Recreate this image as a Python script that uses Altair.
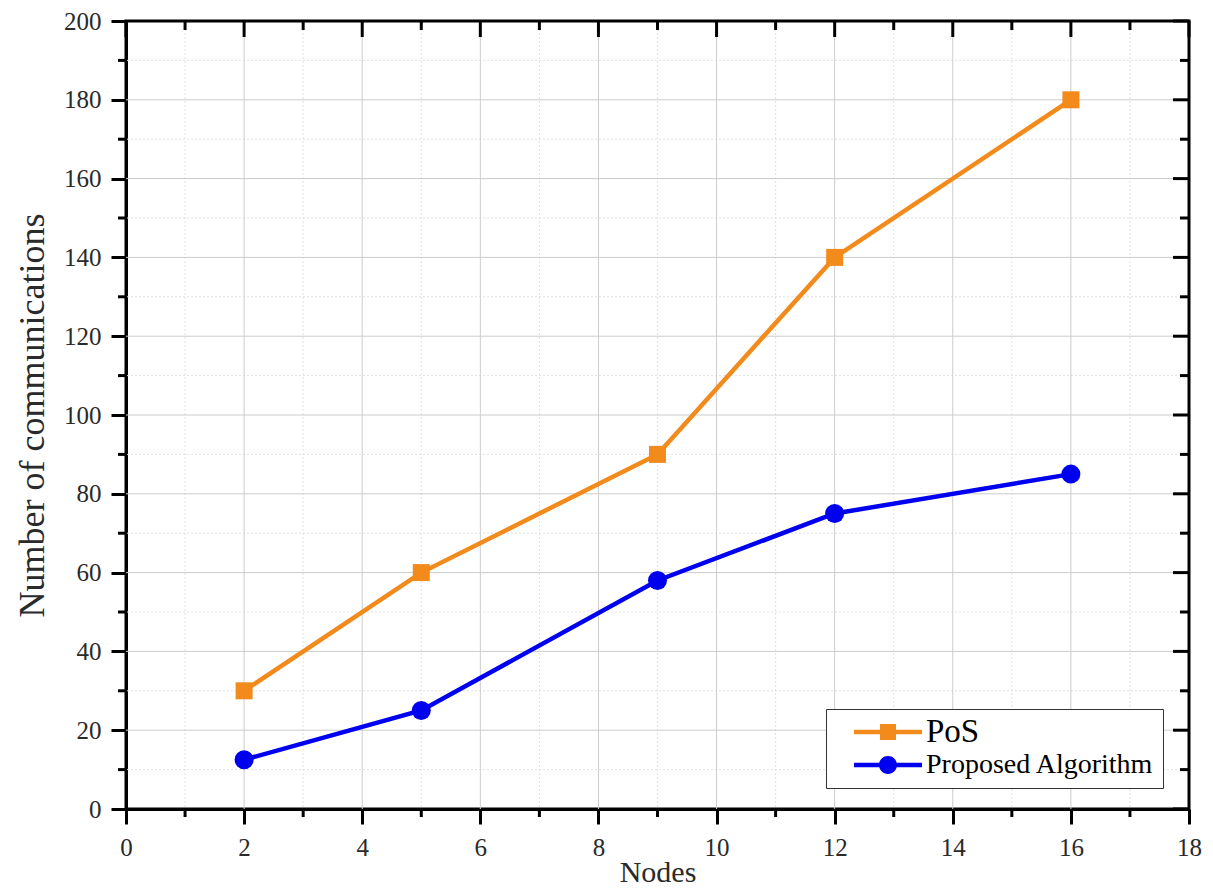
import altair as alt
import pandas as pd

# ---- data ----
nodes = [2, 5, 9, 12, 16]
pos_vals = [30, 60, 90, 140, 180]
prop_vals = [12.5, 25, 58, 75, 85]
series_names = ["PoS", "Proposed Algorithm"]

x_major = [0, 2, 4, 6, 8, 10, 12, 14, 16, 18]
x_minor = [1, 3, 5, 7, 9, 11, 13, 15, 17]
y_major = [0, 20, 40, 60, 80, 100, 120, 140, 160, 180, 200]
y_minor = [10, 30, 50, 70, 90, 110, 130, 150, 170, 190]

# ---- style ----
W, H = 1063, 788
FONT = "Liberation Serif"
ORANGE = "#F28A1C"
BLUE = "#0000F0"
TXT = "#2a2a2a"

xs = alt.Scale(domain=[0, 18], nice=False, zero=False)
ys = alt.Scale(domain=[0, 200], nice=False, zero=False)

xaxis = alt.Axis(values=x_major, title="Nodes", grid=False, format="d",
                 tickSize=15, tickWidth=3, tickColor="black",
                 domainColor="black", domainWidth=3,
                 labelFont=FONT, labelFontSize=25, labelColor=TXT, labelPadding=11,
                 labelFlush=False,
                 titleFont=FONT, titleFontSize=30, titleFontWeight="normal",
                 titleColor=TXT, titlePadding=-3)
yaxis = alt.Axis(values=y_major, title="Number of communications", grid=False, format="d",
                 tickSize=15, tickWidth=3, tickColor="black",
                 domainColor="black", domainWidth=3,
                 labelFont=FONT, labelFontSize=25, labelColor=TXT, labelPadding=10,
                 labelFlush=False,
                 titleFont=FONT, titleFontSize=36, titleFontWeight="normal",
                 titleColor=TXT, titlePadding=12)


def X():
    return alt.X("x:Q", scale=xs, axis=xaxis)


def Y():
    return alt.Y("y:Q", scale=ys, axis=yaxis)


gx_major = pd.DataFrame({"x": x_major[1:-1]})
gx_minor = pd.DataFrame({"x": x_minor})
gy_major = pd.DataFrame({"y": y_major[1:-1]})
gy_minor = pd.DataFrame({"y": y_minor})
tx_major = pd.DataFrame({"x": x_major})
ty_major = pd.DataFrame({"y": y_major})

grid = [
    alt.Chart(gx_minor).mark_rule(color="#e2e2e2", strokeWidth=1, strokeDash=[2, 2]).encode(x=X()),
    alt.Chart(gy_minor).mark_rule(color="#e2e2e2", strokeWidth=1, strokeDash=[2, 2]).encode(y=Y()),
    alt.Chart(gx_major).mark_rule(color="#cccccc", strokeWidth=1).encode(x=X()),
    alt.Chart(gy_major).mark_rule(color="#cccccc", strokeWidth=1).encode(y=Y()),
]

ticks = [
    # bottom minor (outward)
    alt.Chart(gx_minor).mark_rule(color="black", strokeWidth=3).encode(
        x=X(), y=alt.value(H), y2=alt.value(H + 8)),
    # left minor (outward)
    alt.Chart(gy_minor).mark_rule(color="black", strokeWidth=3).encode(
        y=Y(), x=alt.value(-8), x2=alt.value(0)),
    # top (inward)
    alt.Chart(tx_major).mark_rule(color="black", strokeWidth=3).encode(
        x=X(), y=alt.value(0), y2=alt.value(16)),
    alt.Chart(gx_minor).mark_rule(color="black", strokeWidth=3).encode(
        x=X(), y=alt.value(0), y2=alt.value(9)),
    # right (inward)
    alt.Chart(ty_major).mark_rule(color="black", strokeWidth=3).encode(
        y=Y(), x=alt.value(W - 16), x2=alt.value(W)),
    alt.Chart(gy_minor).mark_rule(color="black", strokeWidth=3).encode(
        y=Y(), x=alt.value(W - 9), x2=alt.value(W)),
]

df_pos = pd.DataFrame({"x": nodes, "y": pos_vals})
df_prop = pd.DataFrame({"x": nodes, "y": prop_vals})

series = [
    alt.Chart(df_pos).mark_line(color=ORANGE, strokeWidth=4.5).encode(x=X(), y=Y()),
    alt.Chart(df_prop).mark_line(color=BLUE, strokeWidth=4.5).encode(x=X(), y=Y()),
    alt.Chart(df_pos).mark_point(shape="square", filled=True, color=ORANGE, size=289, opacity=1).encode(x=X(), y=Y()),
    alt.Chart(df_prop).mark_point(shape="circle", filled=True, color=BLUE, size=361, opacity=1).encode(x=X(), y=Y()),
]

# legend (drawn by Vega from a transparent layer)
PATH_SQ = "M-3.4,-0.22H3.4V0.22H-3.4Z M-0.8,-0.8H0.8V0.8H-0.8Z"
PATH_CI = "M-3.4,-0.22H3.4V0.22H-3.4Z M-0.9,0A0.9,0.9 0 1 1 0.9,0A0.9,0.9 0 1 1 -0.9,0Z"

df_all = pd.DataFrame({
    "x": nodes + nodes,
    "y": pos_vals + prop_vals,
    "series": [series_names[0]] * len(nodes) + [series_names[1]] * len(nodes),
})

leg = alt.Legend(title=None, orient="none", legendX=700, legendY=688,
                 strokeColor="#333333", fillColor="white", padding=9,
                 labelFont=FONT, labelFontSize={"expr": "datum.label == 'PoS' ? 33 : 28"},
                 labelColor="black", labelLimit=500,
                 symbolSize=400, symbolOffset=39, labelOffset=24,
                 rowPadding=2, symbolOpacity=1, symbolStrokeWidth=0,
                 cornerRadius=0)

legend_layer = alt.Chart(df_all).mark_point(filled=True, opacity=0).encode(
    x=X(), y=Y(),
    color=alt.Color("series:N", scale=alt.Scale(domain=series_names, range=[ORANGE, BLUE]), legend=leg),
    shape=alt.Shape("series:N", scale=alt.Scale(domain=series_names, range=[PATH_SQ, PATH_CI]), legend=leg),
)

chart = alt.layer(*grid, *ticks, *series, legend_layer).properties(
    width=W, height=H,
    autosize=alt.AutoSizeParams(type="none"),
    padding={"left": 126, "top": 21, "right": 24, "bottom": 79},
    background="white",
).configure_view(stroke="black", strokeWidth=3)

chart.save("out.html", embed_options={"renderer": "svg", "actions": False})
